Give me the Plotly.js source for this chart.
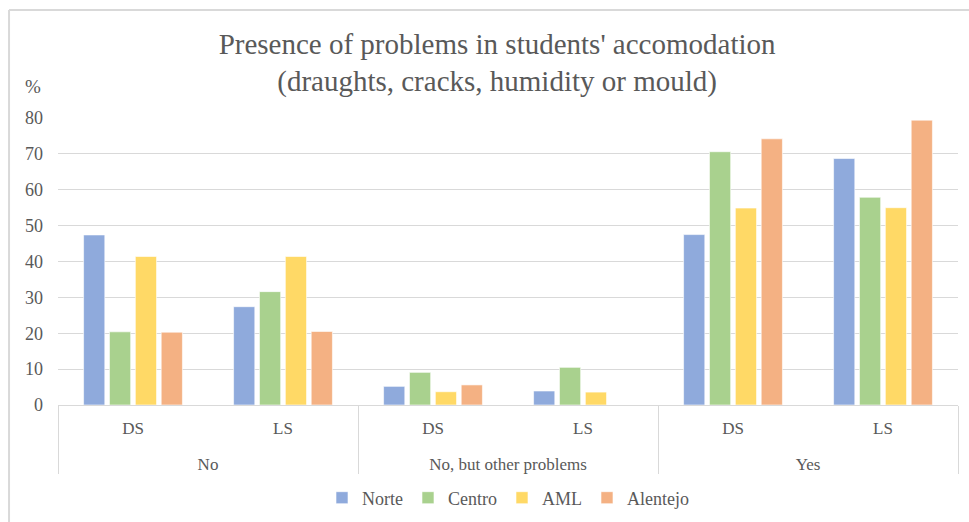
<!DOCTYPE html>
<html>
<head>
<meta charset="utf-8">
<script src="https://cdn.plot.ly/plotly-3.0.1.min.js"></script>
<style>html,body{margin:0;padding:0;background:#fff;}#chart{width:969px;height:522px;}</style>
</head>
<body>
<div id="chart"></div>
<script>
var groups = ["<br>No", "<br>No", "<br>No, but other problems", "<br>No, but other problems", "<br>Yes", "<br>Yes"];
var subgroups = ["DS", "LS", "DS", "LS", "DS", "LS"];
var norte = [47.4, 27.4, 5.2, 3.9, 47.5, 68.7];
var centro = [20.4, 31.6, 9.1, 10.5, 70.6, 57.9];
var aml = [41.4, 41.4, 3.7, 3.6, 54.9, 55.0];
var alentejo = [20.3, 20.5, 5.6, 0, 74.2, 79.4];
var seriesNames = ["Norte", "Centro", "AML", "Alentejo"];
var seriesColors = ["#8faadc", "#a9d18e", "#ffd966", "#f4b183"];
var yTicks = [0, 10, 20, 30, 40, 50, 60, 70, 80];

var serif = "Liberation Serif";
var allVals = [norte, centro, aml, alentejo];
var traces = allVals.map(function(v, i) {
  return {
    type: "bar",
    name: seriesNames[i],
    x: [groups, subgroups],
    y: v,
    marker: {color: seriesColors[i], line: {color: "rgba(255,255,255,0.6)", width: 1}},
    hoverinfo: "y"
  };
});

var layout = {
  width: 969, height: 522,
  paper_bgcolor: "#ffffff", plot_bgcolor: "#ffffff",
  margin: {l: 58, r: 11, t: 118, b: 117, autoexpand: false},
  barmode: "group",
  bargap: 0.31,
  bargroupgap: 0.18,
  font: {family: serif, color: "#595959", size: 18},
  title: {
    text: "Presence of problems in students' accomodation<br>(draughts, cracks, humidity or mould)",
    font: {family: serif, size: 29, color: "#595959"},
    x: 0.513, xanchor: "center", y: 0.897, yanchor: "middle"
  },
  xaxis: {
    type: "multicategory", automargin: false,
    showline: true, linecolor: "#d9d9d9", linewidth: 1,
    showdividers: true, dividercolor: "#d9d9d9", dividerwidth: 1,
    ticklabelstandoff: 8,
    tickfont: {family: serif, size: 17, color: "#595959"},
    ticks: "", showgrid: false, fixedrange: true
  },
  yaxis: {
    range: [0, 80], automargin: false,
    tickvals: yTicks,
    ticktext: yTicks.map(String),
    showgrid: true, gridcolor: "#d9d9d9", gridwidth: 1,
    zeroline: false, showline: false, ticks: "",
    ticklabelstandoff: 14,
    tickfont: {family: serif, size: 18, color: "#595959"},
    fixedrange: true
  },
  legend: {
    orientation: "h", xref: "paper", yref: "container",
    x: 0.5, xanchor: "center", y: 0.046, yanchor: "middle",
    font: {family: serif, size: 18, color: "#595959"},
    itemwidth: 30, tracegroupgap: 0
  },
  annotations: [{
    text: "%", xref: "paper", yref: "paper", x: -0.028, y: 1.11,
    xanchor: "center", yanchor: "middle", showarrow: false,
    font: {family: serif, size: 19, color: "#595959"}
  }],
  shapes: [
    {type: "line", xref: "paper", yref: "paper", x0: -0.0544, x1: -0.0544, y0: 1.376, y1: -0.45, line: {color: "#d9d9d9", width: 2}},
    {type: "line", xref: "paper", yref: "paper", x0: -0.0544, x1: 1.02, y0: 1.376, y1: 1.376, line: {color: "#d9d9d9", width: 2}}
  ],
  showlegend: true
};

Plotly.newPlot("chart", traces, layout, {displayModeBar: false, staticPlot: true});
</script>
</body>
</html>
